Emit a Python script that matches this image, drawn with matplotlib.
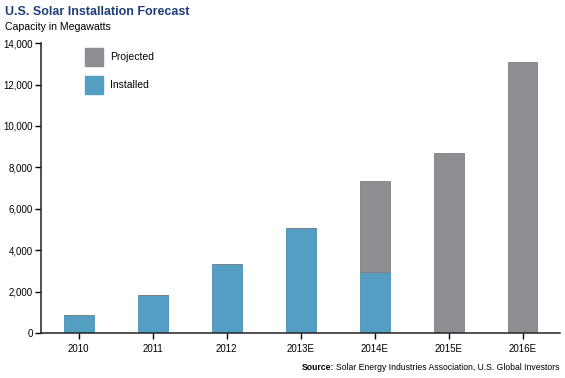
import matplotlib.pyplot as plt
import matplotlib as mpl
import numpy as np

mpl.rcParams['font.family'] = ['Liberation Sans', 'DejaVu Sans']

years = ['2010', '2011', '2012', '2013E', '2014E', '2015E', '2016E']
installed = [870, 1840, 3330, 5070, 2950, 0, 0]
projected = [0, 0, 0, 0, 4390, 8700, 13090]

blue = '#559ec3'
gray = '#8e8e92'

fig = plt.figure(figsize=(5.65, 3.78), dpi=100)
ax = fig.add_axes([0.0726, 0.119, 0.918, 0.767])

x = np.arange(len(years))
ax.bar(x, installed, width=0.4, color=blue, edgecolor='#4a90b5', linewidth=0.6)
ax.bar(x, projected, width=0.4, bottom=installed, color=gray,
       edgecolor='#808084', linewidth=0.6)

ax.set_xlim(-0.51, 6.5)
ax.set_ylim(0, 14000)
ax.set_yticks(range(0, 14001, 2000))
ax.set_yticklabels([f'{v:,}' for v in range(0, 14001, 2000)])
ax.set_xticks(x)
ax.set_xticklabels(years)
ax.tick_params(axis='both', labelsize=7, length=4, width=1, pad=2)
ax.tick_params(axis='x', pad=4)
for s in ['top', 'right']:
    ax.spines[s].set_visible(False)
for s in ['left', 'bottom']:
    ax.spines[s].set_linewidth(1.1)
    ax.spines[s].set_color('#222222')

# legend boxes
fig.patches.append(mpl.patches.Rectangle((85 / 565, 1 - 66 / 378), 18 / 565, 18 / 378,
                                         transform=fig.transFigure, color=gray))
fig.patches.append(mpl.patches.Rectangle((85 / 565, 1 - 94 / 378), 18 / 565, 18 / 378,
                                         transform=fig.transFigure, color=blue))
fig.text(110 / 565, 1 - 57 / 378, 'Projected', fontsize=7.5, va='center')
fig.text(110 / 565, 1 - 85 / 378, 'Installed', fontsize=7.5, va='center')

fig.text(5 / 565, 1 - 12 / 378, 'U.S. Solar Installation Forecast', fontsize=9,
         fontweight='bold', color='#1f3f7a', va='center')
fig.text(5 / 565, 1 - 27 / 378, 'Capacity in Megawatts', fontsize=7.6, va='center')

src = fig.text(560 / 565, 1 - 368 / 378,
               'Solar Energy Industries Association, U.S. Global Investors',
               fontsize=6.2, ha='right', va='center')
fig.canvas.draw()
bb = src.get_window_extent()
fig.text((bb.x0 - 2) / 565, 1 - 368 / 378, 'Source:', fontsize=6.2,
         fontweight='bold', ha='right', va='center')

fig.savefig('out.png', dpi=100)
